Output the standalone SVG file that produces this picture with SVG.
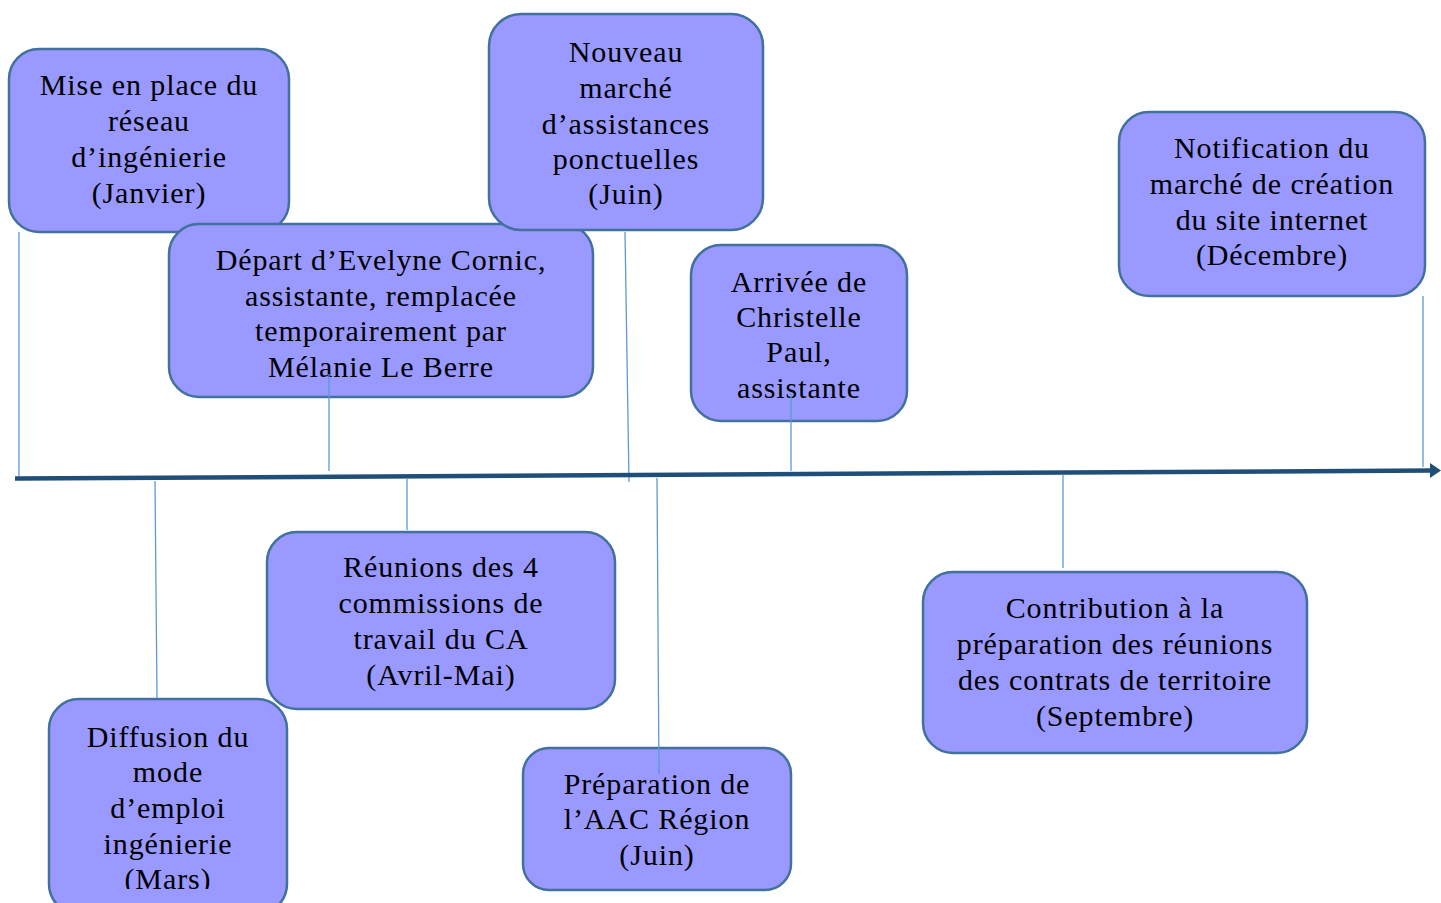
<svg xmlns="http://www.w3.org/2000/svg" width="1441" height="903" viewBox="0 0 1441 903">
<style>
.box{fill:#9999FF;stroke:#41719C;stroke-width:2.5}
.t{font-family:"Liberation Serif","Times New Roman",serif;font-size:30px;letter-spacing:0.9px;fill:#000;text-anchor:middle}
.c{stroke:#5B9BD5;stroke-width:1.3;fill:none}
</style>
<defs>
<clipPath id="clipMars"><rect x="0" y="0" width="1441" height="889"/></clipPath>
</defs>
<rect width="1441" height="903" fill="#fff"/>
<g id="n1"><rect class="box" x="9" y="49" width="280" height="183" rx="30"/>
<text class="t"><tspan x="149" y="95">Mise en place du</tspan><tspan x="149" y="131">réseau</tspan><tspan x="149" y="167">d’ingénierie</tspan><tspan x="149" y="203">(Janvier)</tspan></text></g>
<g id="n2"><rect class="box" x="169" y="224" width="424" height="173" rx="30"/>
<text class="t"><tspan x="381" y="270">Départ d’Evelyne Cornic,</tspan><tspan x="381" y="306">assistante, remplacée</tspan><tspan x="381" y="341">temporairement par</tspan><tspan x="381" y="377">Mélanie Le Berre</tspan></text></g>
<g id="n3"><rect class="box" x="489" y="14" width="274" height="216" rx="32"/>
<text class="t"><tspan x="626" y="62">Nouveau</tspan><tspan x="626" y="98">marché</tspan><tspan x="626" y="134">d’assistances</tspan><tspan x="626" y="169">ponctuelles</tspan><tspan x="626" y="204">(Juin)</tspan></text></g>
<g id="n4"><rect class="box" x="691" y="245" width="216" height="176" rx="30"/>
<text class="t"><tspan x="799" y="292">Arrivée de</tspan><tspan x="799" y="327">Christelle</tspan><tspan x="799" y="362">Paul,</tspan><tspan x="799" y="398">assistante</tspan></text></g>
<g id="n5"><rect class="box" x="1119" y="112" width="306" height="184" rx="30"/>
<text class="t"><tspan x="1272" y="158">Notification du</tspan><tspan x="1272" y="194">marché de création</tspan><tspan x="1272" y="230">du site internet</tspan><tspan x="1272" y="265">(Décembre)</tspan></text></g>
<g id="n6"><rect class="box" x="267" y="532" width="348" height="177" rx="30"/>
<text class="t"><tspan x="441" y="577">Réunions des 4</tspan><tspan x="441" y="613">commissions de</tspan><tspan x="441" y="649">travail du CA</tspan><tspan x="441" y="685">(Avril-Mai)</tspan></text></g>
<g id="n7"><rect class="box" x="49" y="699" width="238" height="215" rx="30"/>
<text class="t" clip-path="url(#clipMars)"><tspan x="168" y="747">Diffusion du</tspan><tspan x="168" y="782">mode</tspan><tspan x="168" y="818">d’emploi</tspan><tspan x="168" y="854">ingénierie</tspan><tspan x="168" y="889">(Mars)</tspan></text></g>
<g id="n8"><rect class="box" x="523" y="748" width="268" height="142" rx="26"/>
<text class="t"><tspan x="657" y="794">Préparation de</tspan><tspan x="657" y="829">l’AAC Région</tspan><tspan x="657" y="865">(Juin)</tspan></text></g>
<g id="n9"><rect class="box" x="923" y="572" width="384" height="181" rx="30"/>
<text class="t"><tspan x="1115" y="618">Contribution à la</tspan><tspan x="1115" y="654">préparation des réunions</tspan><tspan x="1115" y="690">des contrats de territoire</tspan><tspan x="1115" y="726">(Septembre)</tspan></text></g>
<g id="connectors">
<line class="c" x1="19" y1="232" x2="19" y2="476"/>
<line class="c" x1="329" y1="374" x2="329" y2="471"/>
<line class="c" x1="625" y1="232" x2="629" y2="482"/>
<line class="c" x1="791" y1="392" x2="791" y2="471"/>
<line class="c" x1="1423" y1="296" x2="1423" y2="467"/>
<line class="c" x1="155" y1="481" x2="157" y2="698"/>
<line class="c" x1="407" y1="479" x2="407" y2="530"/>
<line class="c" x1="657" y1="478" x2="659" y2="774"/>
<line class="c" x1="1063" y1="475" x2="1063" y2="568"/>
<line x1="15" y1="478.5" x2="1432" y2="470.5" stroke="#1F4E79" stroke-width="4.5"/>
<polygon points="1430,463 1441,470.5 1430,478" fill="#1F4E79"/>
</g>
</svg>
